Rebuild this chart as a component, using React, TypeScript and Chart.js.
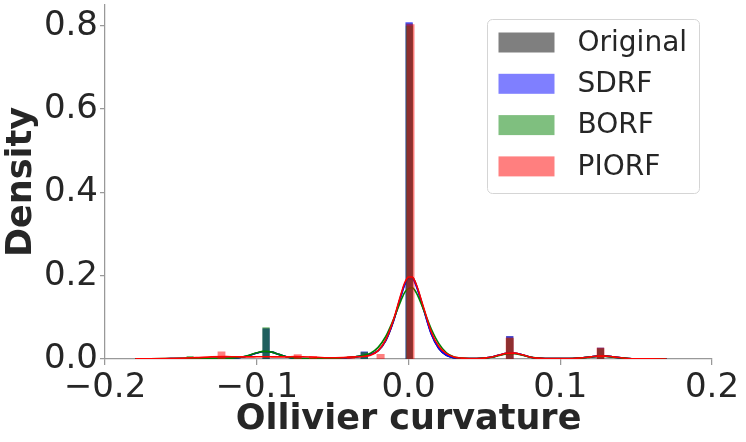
import React, { useEffect, useRef } from 'react';
import { Chart, registerables } from 'chart.js';

Chart.register(...registerables);

// ---------- axes ----------
const X_TICKS = [-0.2, -0.1, 0, 0.1, 0.2];
const X_TICK_LABELS = ['\u22120.2', '\u22120.1', '0.0', '0.1', '0.2'];
const Y_TICKS = [0, 0.2, 0.4, 0.6, 0.8];
const Y_TICK_LABELS = ['0.0', '0.2', '0.4', '0.6', '0.8'];
const X_MIN = -0.2;
const X_MAX = 0.2;
const Y_MAX = 0.85;

// ---------- series ----------
const SERIES = ['Original', 'SDRF', 'BORF', 'PIORF'];
const SERIES_RGB = ['0,0,0', '0,0,255', '0,128,0', '255,0,0'];

// histogram bins (bin centre, density)
const ORIGINAL_BIN_WIDTH = 0.0048;
const ORIGINAL_BIN_CENTERS = [-0.0939, -0.0291, 0.0005, 0.0667, 0.1266];
const ORIGINAL_BIN_HEIGHTS = [0.0737, 0.0175, 0.806, 0.0545, 0.027];

const SDRF_BIN_WIDTH = 0.0048;
const SDRF_BIN_CENTERS = [-0.0939, -0.0291, 0.0004, 0.0667, 0.1266];
const SDRF_BIN_HEIGHTS = [0.0735, 0.018, 0.809, 0.0555, 0.027];

const BORF_BIN_WIDTH = 0.0048;
const BORF_BIN_CENTERS = [-0.144, -0.0939, -0.0291, 0.0006, 0.0667, 0.1266];
const BORF_BIN_HEIGHTS = [0.007, 0.076, 0.016, 0.8, 0.05, 0.025];

const PIORF_BIN_WIDTH = 0.0053;
const PIORF_BIN_CENTERS = [-0.1233, -0.073, -0.063, -0.038, -0.0184, 0.0013, 0.0667, 0.1266];
const PIORF_BIN_HEIGHTS = [0.018, 0.0113, 0.0072, 0.007, 0.012, 0.804, 0.051, 0.027];

// KDE curves, sampled on a shared grid
const KDE_X = [
  -0.18, -0.17, -0.16, -0.15, -0.14, -0.13, -0.12,
  -0.115, -0.11, -0.105, -0.1, -0.095, -0.09, -0.085, -0.08, -0.075, -0.07,
  -0.06, -0.05, -0.04, -0.035, -0.03, -0.025, -0.02, -0.015, -0.01, -0.005,
  -0.0025, 0, 0.0025, 0.005,
  0.01, 0.015, 0.02, 0.025, 0.03, 0.035, 0.04, 0.045,
  0.05, 0.055, 0.06, 0.065, 0.07, 0.075, 0.08, 0.085, 0.09,
  0.1, 0.105, 0.11, 0.115, 0.12, 0.125, 0.13, 0.135, 0.14, 0.145, 0.15,
  0.16, 0.17,
];

const ORIGINAL_KDE = [
  0.0002, 0.0004, 0.0007, 0.001, 0.0012, 0.0012, 0.0015,
  0.0025, 0.0045, 0.0085, 0.0145, 0.018, 0.0165, 0.0105, 0.005, 0.002, 0.001,
  0.0007, 0.001, 0.003, 0.005, 0.0075, 0.011, 0.02, 0.044, 0.09, 0.152,
  0.18, 0.194, 0.196, 0.179,
  0.12, 0.061, 0.025, 0.009, 0.003, 0.0013, 0.001, 0.0012,
  0.0022, 0.0048, 0.0095, 0.0135, 0.0138, 0.0098, 0.0048, 0.002, 0.001,
  0.0008, 0.001, 0.0016, 0.003, 0.005, 0.0068, 0.0068, 0.005, 0.0028, 0.0012, 0.0005,
  0.0002, 0.0001,
];

const SDRF_KDE = [
  0.0002, 0.0004, 0.0007, 0.001, 0.0012, 0.0012, 0.0015,
  0.0025, 0.0045, 0.0085, 0.0145, 0.018, 0.0165, 0.0105, 0.005, 0.002, 0.001,
  0.0007, 0.001, 0.003, 0.005, 0.0075, 0.011, 0.02, 0.044, 0.09, 0.15,
  0.178, 0.191, 0.192, 0.176,
  0.118, 0.06, 0.025, 0.009, 0.003, 0.0013, 0.001, 0.0012,
  0.0022, 0.0048, 0.0095, 0.0135, 0.0138, 0.0098, 0.0048, 0.002, 0.001,
  0.0008, 0.001, 0.0016, 0.003, 0.005, 0.0068, 0.0068, 0.005, 0.0028, 0.0012, 0.0005,
  0.0002, 0.0001,
];

const BORF_KDE = [
  0.0003, 0.0006, 0.001, 0.0016, 0.002, 0.0016, 0.0016,
  0.0026, 0.0046, 0.0088, 0.015, 0.0182, 0.0165, 0.0105, 0.005, 0.002, 0.001,
  0.0007, 0.0012, 0.0035, 0.0055, 0.0085, 0.014, 0.028, 0.054, 0.094, 0.14,
  0.16, 0.169, 0.171, 0.16,
  0.118, 0.072, 0.037, 0.015, 0.005, 0.002, 0.0012, 0.0012,
  0.002, 0.0042, 0.0085, 0.012, 0.0125, 0.009, 0.0045, 0.002, 0.001,
  0.0008, 0.001, 0.0015, 0.0028, 0.0046, 0.0062, 0.0062, 0.0046, 0.0026, 0.0012, 0.0005,
  0.0002, 0.0001,
];

const PIORF_KDE = [
  0.0002, 0.0005, 0.001, 0.0018, 0.0032, 0.005, 0.0058,
  0.0054, 0.005, 0.005, 0.0054, 0.0055, 0.0052, 0.005, 0.0052, 0.0056, 0.0055,
  0.004, 0.003, 0.004, 0.005, 0.006, 0.009, 0.02, 0.046, 0.093, 0.155,
  0.183, 0.197, 0.197, 0.18,
  0.123, 0.065, 0.03, 0.013, 0.005, 0.002, 0.001, 0.0012,
  0.0022, 0.0048, 0.0095, 0.0138, 0.0142, 0.01, 0.005, 0.002, 0.001,
  0.0008, 0.001, 0.0016, 0.003, 0.005, 0.007, 0.007, 0.0052, 0.003, 0.0013, 0.0005,
  0.0002, 0.0001,
];

const HISTS = [
  { centers: ORIGINAL_BIN_CENTERS, heights: ORIGINAL_BIN_HEIGHTS, width: ORIGINAL_BIN_WIDTH, kde: ORIGINAL_KDE },
  { centers: SDRF_BIN_CENTERS, heights: SDRF_BIN_HEIGHTS, width: SDRF_BIN_WIDTH, kde: SDRF_KDE },
  { centers: BORF_BIN_CENTERS, heights: BORF_BIN_HEIGHTS, width: BORF_BIN_WIDTH, kde: BORF_KDE },
  { centers: PIORF_BIN_CENTERS, heights: PIORF_BIN_HEIGHTS, width: PIORF_BIN_WIDTH, kde: PIORF_KDE },
];

const TEXT_COLOR = '#262626';
const SPINE_COLOR = '#999999';

function histOutline(centers: number[], heights: number[], width: number) {
  const pts: { x: number; y: number }[] = [];
  centers.forEach((c, i) => {
    const x0 = c - width / 2;
    const x1 = c + width / 2;
    pts.push({ x: x0, y: 0 }, { x: x0, y: heights[i] }, { x: x1, y: heights[i] }, { x: x1, y: 0 });
  });
  return pts;
}

const legendPlugin = {
  id: 'boxLegend',
  afterDraw(chart: any) {
    const { ctx, chartArea } = chart;
    const w = 212;
    const h = 174;
    const x0 = Math.round(chartArea.right - 13 - w) + 0.5;
    const y0 = Math.round(chartArea.top + 14) + 0.5;
    ctx.save();
    ctx.beginPath();
    ctx.roundRect(x0, y0, w, h, 5);
    ctx.fillStyle = 'rgba(255,255,255,0.8)';
    ctx.fill();
    ctx.strokeStyle = '#d5d5d5';
    ctx.lineWidth = 1;
    ctx.stroke();
    ctx.font = '28px "DejaVu Sans"';
    ctx.textBaseline = 'middle';
    ctx.textAlign = 'left';
    SERIES.forEach((name, i) => {
      const cy = y0 + 23 + i * 41.3;
      ctx.fillStyle = `rgba(${SERIES_RGB[i]},0.5)`;
      ctx.fillRect(x0 + 11, cy - 10, 56, 20);
      ctx.fillStyle = TEXT_COLOR;
      ctx.fillText(name, x0 + 90, cy + 1);
    });
    ctx.restore();
  },
};

export default function App() {
  const ref = useRef<HTMLCanvasElement | null>(null);

  useEffect(() => {
    document.body.style.margin = '0';
    const canvas = ref.current;
    if (!canvas) return;

    const datasets: any[] = [];
    HISTS.forEach((hst, i) => {
      datasets.push({
        label: SERIES[i] + ' hist',
        data: histOutline(hst.centers, hst.heights, hst.width),
        backgroundColor: `rgba(${SERIES_RGB[i]},0.5)`,
        borderColor: 'rgba(0,0,0,0)',
        borderWidth: 0,
        fill: 'origin',
        pointRadius: 0,
        tension: 0,
        order: 7 - i * 2,
      });
      datasets.push({
        label: SERIES[i] + ' kde',
        data: KDE_X.map((x, k) => ({ x, y: hst.kde[k] })),
        borderColor: `rgb(${SERIES_RGB[i]})`,
        backgroundColor: `rgb(${SERIES_RGB[i]})`,
        borderWidth: 1.6,
        fill: false,
        pointRadius: 0,
        cubicInterpolationMode: 'monotone',
        order: 6 - i * 2,
      });
    });

    const chart = new Chart(canvas, {
      type: 'line',
      data: { datasets },
      plugins: [legendPlugin],
      options: {
        animation: false,
        responsive: false,
        devicePixelRatio: 1,
        layout: { padding: { left: 0, top: 5, right: 34, bottom: 0 } },
        plugins: {
          legend: { display: false },
          tooltip: { enabled: false },
        },
        font: { family: '"DejaVu Sans"' },
        scales: {
          x: {
            type: 'linear',
            min: X_MIN,
            max: X_MAX,
            afterBuildTicks: (s: any) => {
              s.ticks = X_TICKS.map((value) => ({ value }));
            },
            afterFit: (s: any) => {
              s.height = 83;
              s.paddingLeft = 0;
              s.paddingRight = 0;
            },
            ticks: {
              autoSkip: false,
              maxRotation: 0,
              minRotation: 0,
              padding: 3,
              color: TEXT_COLOR,
              font: { family: '"DejaVu Sans"', size: 34 },
              callback: (_v: any, i: number) => X_TICK_LABELS[i],
            },
            grid: {
              display: true,
              drawOnChartArea: false,
              drawTicks: true,
              tickLength: 6,
              color: SPINE_COLOR,
              lineWidth: 1.25,
            },
            border: { display: true, color: SPINE_COLOR, width: 1.25 },
            title: {
              display: true,
              text: 'Ollivier curvature',
              color: TEXT_COLOR,
              font: { family: '"DejaVu Sans"', size: 35, weight: 'bold' },
              padding: { top: 0, bottom: 1 },
            },
          },
          y: {
            type: 'linear',
            min: 0,
            max: Y_MAX,
            afterBuildTicks: (s: any) => {
              s.ticks = Y_TICKS.map((value) => ({ value }));
            },
            afterFit: (s: any) => {
              s.width = 105;
              s.paddingTop = 0;
              s.paddingBottom = 0;
            },
            ticks: {
              autoSkip: false,
              padding: 2,
              color: TEXT_COLOR,
              font: { family: '"DejaVu Sans"', size: 34 },
              callback: (_v: any, i: number) => Y_TICK_LABELS[i],
            },
            grid: {
              display: true,
              drawOnChartArea: false,
              drawTicks: true,
              tickLength: 5,
              color: SPINE_COLOR,
              lineWidth: 1.25,
            },
            border: { display: true, color: SPINE_COLOR, width: 1.25 },
            title: {
              display: true,
              text: 'Density',
              color: TEXT_COLOR,
              font: { family: '"DejaVu Sans"', size: 35, weight: 'bold' },
              padding: { top: 1, bottom: 0 },
            },
          },
        },
      } as any,
    });

    return () => chart.destroy();
  }, []);

  return (
    <div style={{ position: 'fixed', left: 0, top: 0, width: 746, height: 442, background: '#fff' }}>
      <canvas ref={ref} width={746} height={442} />
    </div>
  );
}
